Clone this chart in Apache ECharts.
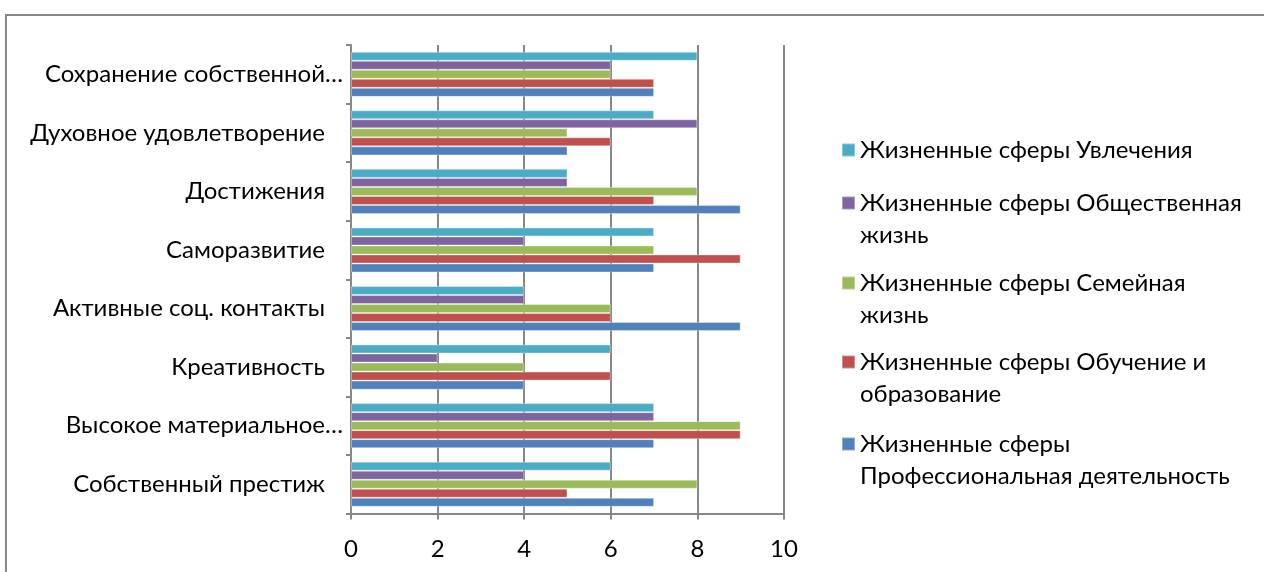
<!DOCTYPE html>
<html><head><meta charset="utf-8">
<script src="https://cdn.jsdelivr.net/npm/echarts@6/dist/echarts.min.js"></script>
<style>html,body{margin:0;padding:0;background:#fff}#c{width:1264px;height:572px}</style>
</head><body><div id="c"></div>
<script>
// categories listed bottom -> top (as drawn on the axis)
const categories = ['Собственный престиж','Высокое материальное…','Креативность','Активные соц. контакты','Саморазвитие','Достижения','Духовное удовлетворение','Сохранение собственной…'];
const seriesNames = ['Жизненные сферы Увлечения','Жизненные сферы Общественная жизнь','Жизненные сферы Семейная жизнь','Жизненные сферы Обучение и образование','Жизненные сферы Профессиональная деятельность'];
const hobbies      = [6,7,6,4,7,5,7,8];
const social       = [4,7,2,4,4,5,8,6];
const family       = [8,9,4,6,7,8,5,6];
const education    = [5,9,6,6,9,7,6,7];
const professional = [7,7,4,9,7,9,5,7];
const xTicks = [0,2,4,6,8,10];
const legendLabels = ['Жизненные сферы Увлечения','Жизненные сферы Общественная\nжизнь','Жизненные сферы Семейная\nжизнь','Жизненные сферы Обучение и\nобразование','Жизненные сферы\nПрофессиональная деятельность'];
const colors = ['#4BACC6','#8064A2','#9BBB59','#C0504D','#4F81BD'];
const values = [hobbies, social, family, education, professional];
const FONT = 'Lato';
const FS = 24;
const chart = echarts.init(document.getElementById('c'));
const iconCenters = [150, 203, 283, 362, 444];
const legends = seriesNames.map((name, i) => {
  const twoLine = legendLabels[i].indexOf('\n') >= 0;
  return {
    data: [name],
    left: 841, top: iconCenters[i] - (twoLine ? 48 : 16), padding: 0,
    itemWidth: 13, itemHeight: 13, icon: 'rect',
    selectedMode: false,
    formatter: () => (twoLine ? '\n' : '') + legendLabels[i],
    textStyle: {fontFamily: FONT, fontSize: FS, color: '#000', lineHeight: 32}
  };
});
chart.setOption({
  animation: false,
  color: colors,
  graphic: [{type:'rect', shape:{x:6, y:15, width:1400, height:700}, style:{fill:'none', stroke:'#878787', lineWidth:2}, silent:true}],
  grid: {left: 351, right: 480, top: 45, bottom: 58.5},
  legend: legends,
  xAxis: {
    type: 'value', min: xTicks[0], max: xTicks[xTicks.length-1], interval: 2,
    axisLine: {show: true, lineStyle: {color: '#878787', width: 2}},
    axisTick: {show: true, length: 6, lineStyle: {color: '#878787', width: 2}},
    splitLine: {show: true, lineStyle: {color: '#878787', width: 2}},
    axisLabel: {fontFamily: FONT, fontSize: FS, color: '#000', margin: 24}
  },
  yAxis: {
    type: 'category', data: categories,
    axisLine: {show: true, lineStyle: {color: '#878787', width: 2}},
    axisTick: {show: true, length: 5, lineStyle: {color: '#878787', width: 2}},
    axisLabel: {fontFamily: FONT, fontSize: FS, color: '#000', margin: 8,
      formatter: v => v.endsWith('…') ? '{e|' + v + '}' : '{n|' + v + '}',
      rich: {e: {fontFamily: FONT, fontSize: FS, color:'#000'}, n: {fontFamily: FONT, fontSize: FS, color:'#000', padding:[0,18,0,0]}}}
  },
  series: values.map((d, i) => ({
    name: seriesNames[i], type: 'bar', data: d,
    barGap: '0%', barCategoryGap: '23%',
    itemStyle: {color: colors[i], borderColor: 'rgba(255,255,255,0.35)', borderWidth: 1}
  }))
});
</script></body></html>
